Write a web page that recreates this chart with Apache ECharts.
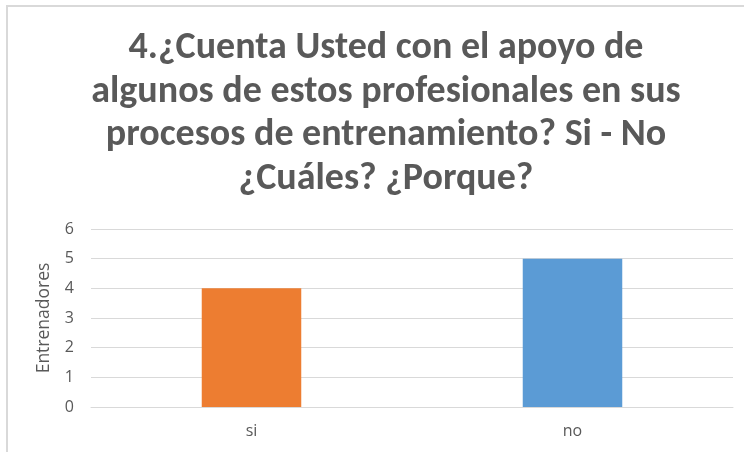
<!DOCTYPE html>
<html>
<head>
<meta charset="utf-8">
<script src="https://cdn.jsdelivr.net/npm/echarts@6/dist/echarts.min.js"></script>
<style>
  html, body { margin: 0; padding: 0; background: #fff; }
  #wrap { position: relative; width: 744px; height: 452px; overflow: hidden; }
  #chart { width: 744px; height: 452px; }
  #frame { position: absolute; left: 6px; top: 5px; width: 760px; height: 460px;
           border-left: 2px solid #d9d9d9; border-top: 2px solid #d9d9d9; pointer-events: none; }
</style>
</head>
<body>
<div id="wrap">
  <div id="chart"></div>
  <div id="frame"></div>
</div>
<script>
var titleLines = ['4.¿Cuenta Usted con el apoyo de',
                  'algunos de estos profesionales en sus',
                  'procesos de entrenamiento? Si - No',
                  '¿Cuáles? ¿Porque?'];
var categories = ['si', 'no'];
var values = [4, 5];
var barColors = ['#ED7D31', '#5B9BD5'];
var yTicks = [0, 1, 2, 3, 4, 5, 6];
var yName = 'Entrenadores';

var titleFont = 'Carlito, "Liberation Sans", sans-serif';
var axisFont = '"Open Sans", "Noto Sans", sans-serif';
var chart = echarts.init(document.getElementById('chart'));

chart.setOption({
    animation: false,
    title: {
        text: titleLines.join('\n'),
        left: 381,
        top: 22,
        textAlign: 'center',
        textStyle: {
            color: '#595959',
            fontFamily: titleFont,
            fontWeight: 'bold',
            fontSize: 38,
            lineHeight: 43.5
        }
    },
    grid: { left: 91, right: 11, top: 229, bottom: 45 },
    xAxis: {
        type: 'category',
        data: categories,
        axisLine: { lineStyle: { color: '#d9d9d9' } },
        axisTick: { show: false },
        axisLabel: { color: '#595959', fontSize: 16, margin: 16, fontFamily: axisFont }
    },
    yAxis: {
        type: 'value',
        min: yTicks[0],
        max: yTicks[yTicks.length - 1],
        interval: 1,
        name: yName,
        nameLocation: 'middle',
        nameGap: 38,
        nameTextStyle: { color: '#595959', fontSize: 17.5, fontFamily: axisFont },
        axisLine: { show: false },
        axisTick: { show: false },
        axisLabel: { color: '#595959', fontSize: 16, margin: 17, fontFamily: axisFont },
        splitLine: { lineStyle: { color: '#d9d9d9', width: 1 } }
    },
    series: [{
        type: 'bar',
        barWidth: '31%',
        data: values.map(function (v, i) {
            return { value: v, itemStyle: { color: barColors[i] } };
        })
    }]
});
</script>
</body>
</html>
